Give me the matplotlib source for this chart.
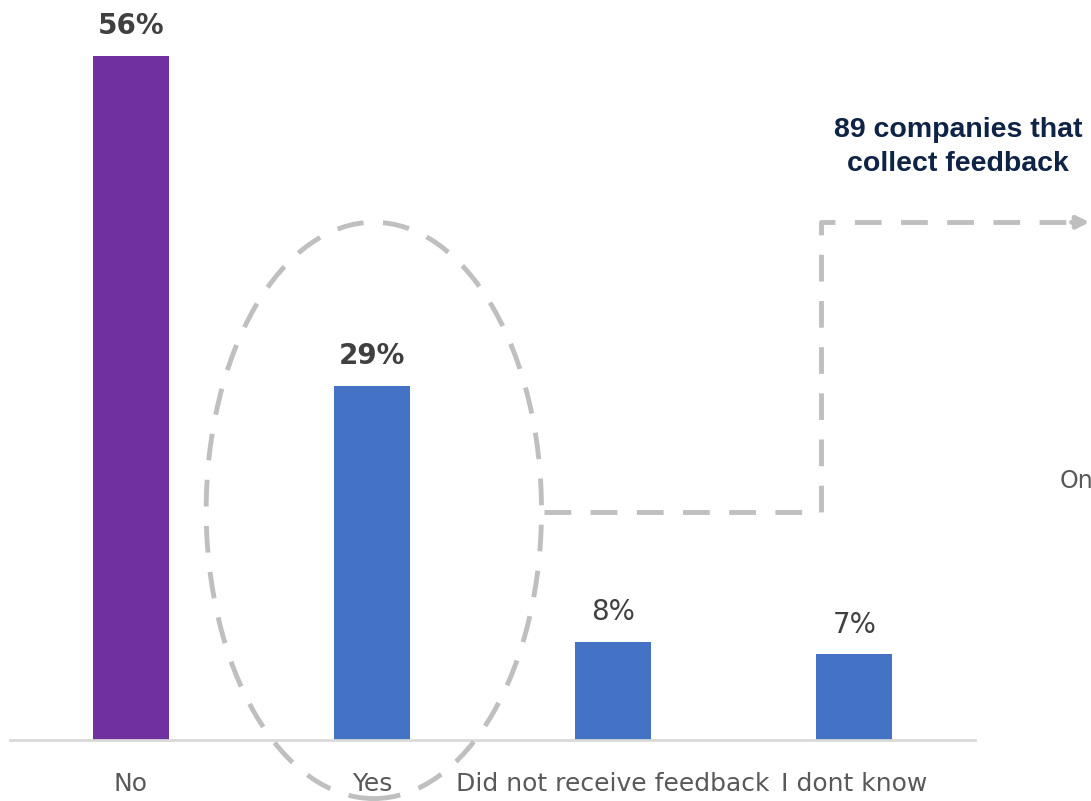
import matplotlib.pyplot as plt
from matplotlib.patches import Ellipse

# data
categories = ["No", "Yes", "Did not receive feedback", "I dont know"]
values = [56, 29, 8, 7]
colors = ["#7030A0", "#4472C4", "#4472C4", "#4472C4"]
bold_labels = [True, True, False, False]

narrow = ["Liberation Sans Narrow", "DejaVu Sans"]
gray = "#BFBFBF"
dash = (0, (5.5, 4))

fig = plt.figure(figsize=(10.91, 8.01), dpi=100)
ax = fig.add_axes([0.0092, 0.0762, 0.8845, 0.9146])

x = list(range(len(categories)))
ax.bar(x, values, width=0.315, color=colors, zorder=2)

for xi, v, b in zip(x, values, bold_labels):
    ax.text(xi, v + 1.3, f"{v}%", ha="center", va="bottom", fontsize=20,
            fontweight="bold" if b else "normal", color="#404040",
            family=narrow)

ax.set_xlim(-0.5, 3.5)
ax.set_ylim(0, 60)
ax.set_xticks(x)
ax.set_xticklabels(categories, fontsize=18, color="#595959", family=narrow)
ax.tick_params(axis="x", length=0, pad=23)
ax.set_yticks([])
for s in ["top", "right", "left"]:
    ax.spines[s].set_visible(False)
ax.spines["bottom"].set_color("#D9D9D9")
ax.spines["bottom"].set_linewidth(2)

# dashed ellipse around "Yes"
ell = Ellipse((1.008, 18.8), 1.39, 47.2, fill=False, edgecolor=gray,
              linewidth=3.5, linestyle=dash, clip_on=False, zorder=3)
ax.add_patch(ell)

# dashed connector
ax.plot([1.714, 2.863, 2.863, 3.93], [18.67, 18.67, 42.4, 42.4], color=gray,
        linewidth=3.5, linestyle=dash, clip_on=False, solid_capstyle="butt")
ax.annotate("", xy=(3.975, 42.4), xytext=(3.90, 42.4),
            arrowprops=dict(arrowstyle="-|>", color=gray, lw=3.5,
                            mutation_scale=18, shrinkA=0, shrinkB=0),
            annotation_clip=False)

fig.text(958 / 1091, 1 - 147 / 801, "89 companies that\ncollect feedback",
         ha="center", va="center", fontsize=20.5, fontweight="bold",
         color="#0E2345", family=["Liberation Sans", "DejaVu Sans"],
         linespacing=1.4)
fig.text(1060 / 1091, 1 - 481 / 801, "On", ha="left", va="center",
         fontsize=17, color="#595959", family=narrow)

fig.savefig("out.png", dpi=100)
